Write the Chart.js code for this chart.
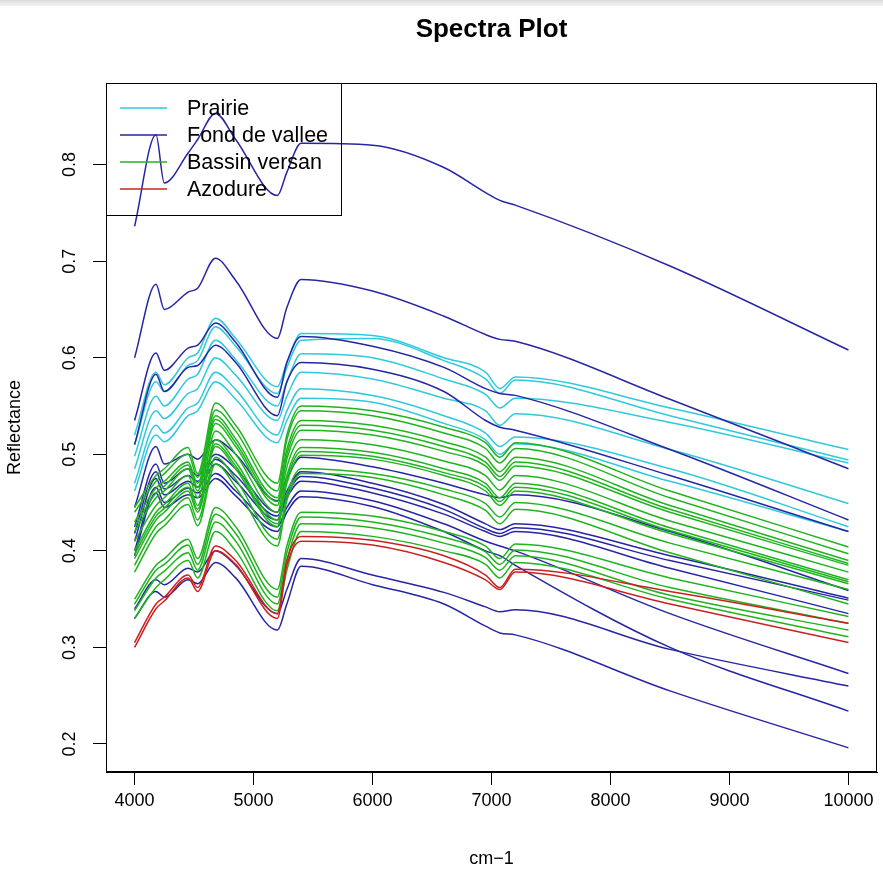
<!DOCTYPE html>
<html>
<head>
<meta charset="utf-8">
<script src="https://cdn.jsdelivr.net/npm/chart.js@4.4.1/dist/chart.umd.min.js"></script>
<style>
  html, body { margin: 0; padding: 0; background: #fff; }
  #wrap { position: relative; width: 883px; height: 878px; overflow: hidden; }
  #topbar { position: absolute; left: 0; top: 0; width: 883px; height: 6px;
            background: linear-gradient(#dcdcdc, #f3f3f3); }
  canvas { position: absolute; left: 0; top: 0; }
</style>
</head>
<body>
<div id="wrap">
  <canvas id="chart" width="883" height="878"></canvas>
  <div id="topbar"></div>
</div>
<script>
// Wavenumbers (cm-1) at which each spectrum is sampled
const wavenumbers = [4000, 4180, 4250, 4450, 4530, 4680, 4850, 5200, 5280, 5400, 6000, 6600, 6950, 7070, 7200, 8500, 10000];

// Reflectance spectra, one row per sample, grouped by site
const prairie = [
  [0.520, 0.585, 0.572, 0.600, 0.605, 0.641, 0.620, 0.570, 0.595, 0.625, 0.623, 0.600, 0.585, 0.568, 0.580, 0.548, 0.505],
  [0.510, 0.575, 0.565, 0.592, 0.597, 0.632, 0.612, 0.563, 0.590, 0.618, 0.620, 0.597, 0.578, 0.563, 0.577, 0.540, 0.494],
  [0.498, 0.560, 0.550, 0.578, 0.583, 0.618, 0.598, 0.550, 0.575, 0.604, 0.600, 0.578, 0.562, 0.548, 0.558, 0.533, 0.491],
  [0.485, 0.545, 0.537, 0.563, 0.568, 0.600, 0.582, 0.535, 0.560, 0.585, 0.578, 0.558, 0.545, 0.530, 0.542, 0.505, 0.449],
  [0.470, 0.530, 0.522, 0.548, 0.553, 0.585, 0.567, 0.520, 0.545, 0.568, 0.561, 0.540, 0.522, 0.508, 0.518, 0.485, 0.425],
  [0.462, 0.520, 0.513, 0.540, 0.545, 0.575, 0.557, 0.512, 0.535, 0.558, 0.554, 0.532, 0.515, 0.500, 0.511, 0.472, 0.420]
];
const fondDeVallee = [
  [0.736, 0.831, 0.781, 0.812, 0.826, 0.853, 0.826, 0.768, 0.792, 0.822, 0.820, 0.797, 0.771, 0.763, 0.758, 0.695, 0.608],
  [0.600, 0.676, 0.650, 0.668, 0.672, 0.703, 0.680, 0.620, 0.652, 0.681, 0.669, 0.643, 0.624, 0.619, 0.617, 0.557, 0.485],
  [0.535, 0.605, 0.587, 0.610, 0.613, 0.636, 0.616, 0.559, 0.595, 0.622, 0.612, 0.590, 0.568, 0.563, 0.561, 0.505, 0.432],
  [0.510, 0.583, 0.565, 0.590, 0.592, 0.613, 0.595, 0.540, 0.575, 0.595, 0.588, 0.565, 0.535, 0.528, 0.525, 0.478, 0.420],
  [0.445, 0.508, 0.490, 0.500, 0.495, 0.515, 0.500, 0.452, 0.475, 0.497, 0.487, 0.470, 0.458, 0.455, 0.458, 0.420, 0.359],
  [0.425, 0.490, 0.470, 0.485, 0.478, 0.500, 0.485, 0.440, 0.462, 0.482, 0.470, 0.448, 0.428, 0.422, 0.428, 0.395, 0.351],
  [0.418, 0.482, 0.464, 0.478, 0.472, 0.495, 0.478, 0.436, 0.458, 0.477, 0.465, 0.443, 0.423, 0.418, 0.424, 0.390, 0.349],
  [0.410, 0.475, 0.458, 0.472, 0.466, 0.490, 0.472, 0.432, 0.455, 0.472, 0.460, 0.438, 0.420, 0.415, 0.420, 0.382, 0.335],
  [0.400, 0.466, 0.450, 0.465, 0.460, 0.480, 0.462, 0.425, 0.445, 0.462, 0.452, 0.428, 0.410, 0.405, 0.400, 0.335, 0.273],
  [0.395, 0.460, 0.445, 0.458, 0.455, 0.475, 0.457, 0.420, 0.440, 0.456, 0.446, 0.420, 0.400, 0.395, 0.385, 0.300, 0.234],
  [0.340, 0.370, 0.365, 0.382, 0.378, 0.400, 0.385, 0.335, 0.360, 0.392, 0.375, 0.357, 0.342, 0.337, 0.339, 0.298, 0.260],
  [0.330, 0.358, 0.352, 0.370, 0.366, 0.388, 0.372, 0.318, 0.345, 0.384, 0.365, 0.345, 0.322, 0.315, 0.313, 0.255, 0.196]
];
const bassinVersan = [
  [0.445, 0.478, 0.485, 0.507, 0.480, 0.553, 0.530, 0.470, 0.520, 0.550, 0.545, 0.528, 0.512, 0.497, 0.512, 0.462, 0.404],
  [0.440, 0.472, 0.480, 0.500, 0.476, 0.546, 0.524, 0.462, 0.515, 0.545, 0.540, 0.522, 0.506, 0.491, 0.506, 0.455, 0.397],
  [0.430, 0.465, 0.472, 0.492, 0.470, 0.540, 0.516, 0.455, 0.505, 0.535, 0.530, 0.513, 0.497, 0.482, 0.497, 0.447, 0.390],
  [0.425, 0.460, 0.467, 0.489, 0.466, 0.536, 0.512, 0.451, 0.500, 0.530, 0.525, 0.508, 0.492, 0.477, 0.492, 0.443, 0.387],
  [0.420, 0.455, 0.462, 0.485, 0.462, 0.532, 0.508, 0.447, 0.495, 0.525, 0.520, 0.503, 0.488, 0.473, 0.488, 0.440, 0.385],
  [0.410, 0.447, 0.455, 0.478, 0.455, 0.524, 0.500, 0.440, 0.487, 0.515, 0.510, 0.493, 0.478, 0.463, 0.478, 0.431, 0.378],
  [0.400, 0.440, 0.448, 0.470, 0.447, 0.515, 0.492, 0.432, 0.478, 0.507, 0.502, 0.485, 0.470, 0.455, 0.470, 0.424, 0.370],
  [0.396, 0.436, 0.444, 0.466, 0.443, 0.511, 0.488, 0.428, 0.474, 0.503, 0.498, 0.481, 0.466, 0.451, 0.466, 0.421, 0.368],
  [0.392, 0.432, 0.440, 0.462, 0.440, 0.508, 0.485, 0.425, 0.470, 0.499, 0.495, 0.478, 0.462, 0.447, 0.462, 0.418, 0.366],
  [0.385, 0.425, 0.432, 0.455, 0.432, 0.497, 0.474, 0.412, 0.458, 0.485, 0.480, 0.464, 0.449, 0.435, 0.450, 0.408, 0.360],
  [0.378, 0.418, 0.426, 0.448, 0.426, 0.490, 0.466, 0.405, 0.452, 0.480, 0.476, 0.458, 0.442, 0.428, 0.443, 0.398, 0.345],
  [0.350, 0.385, 0.392, 0.412, 0.392, 0.445, 0.425, 0.360, 0.405, 0.440, 0.436, 0.420, 0.405, 0.392, 0.407, 0.372, 0.332],
  [0.345, 0.380, 0.386, 0.406, 0.386, 0.438, 0.418, 0.352, 0.398, 0.435, 0.430, 0.414, 0.399, 0.386, 0.401, 0.362, 0.325],
  [0.338, 0.372, 0.379, 0.398, 0.380, 0.430, 0.410, 0.345, 0.390, 0.428, 0.424, 0.408, 0.393, 0.380, 0.395, 0.354, 0.318],
  [0.330, 0.362, 0.370, 0.390, 0.372, 0.420, 0.400, 0.338, 0.380, 0.420, 0.415, 0.400, 0.386, 0.372, 0.388, 0.350, 0.311]
];
const azodure = [
  [0.305, 0.345, 0.352, 0.375, 0.362, 0.405, 0.390, 0.335, 0.390, 0.415, 0.411, 0.395, 0.375, 0.362, 0.381, 0.358, 0.325],
  [0.300, 0.340, 0.348, 0.372, 0.358, 0.400, 0.386, 0.330, 0.385, 0.410, 0.406, 0.388, 0.370, 0.360, 0.378, 0.345, 0.305]
];

const groupNames  = ['Prairie', 'Fond de vallee', 'Bassin versan', 'Azodure'];
const groupColors = ['#2fc9dc', '#2626a4', '#1fb41f', '#cc2020'];
const xTicks = [4000, 5000, 6000, 7000, 8000, 9000, 10000];
const yTicks = [0.2, 0.3, 0.4, 0.5, 0.6, 0.7, 0.8];

const FONT = '"Liberation Sans", Arial, Helvetica, sans-serif';

function seriesOf(rows, color) {
  return rows.map(vals => ({
    data: wavenumbers.map((w, i) => ({ x: w, y: vals[i] })),
    borderColor: color,
    borderWidth: 1.5,
    pointRadius: 0,
    fill: false,
    cubicInterpolationMode: 'monotone'
  }));
}

// Chart.js paints the first dataset last, so the list runs from top layer to bottom layer
const datasets = [].concat(
  seriesOf(azodure, groupColors[3]),
  seriesOf(bassinVersan, groupColors[2]),
  seriesOf(fondDeVallee, groupColors[1]),
  seriesOf(prairie, groupColors[0])
);

const frameAndText = {
  id: 'frameAndText',
  afterDraw(chart) {
    const { ctx, chartArea: a } = chart;
    ctx.save();
    // plot frame
    ctx.strokeStyle = '#000';
    ctx.lineWidth = 1;
    ctx.strokeRect(Math.round(a.left) + 0.5, Math.round(a.top) + 0.5,
                   Math.round(a.right - a.left) - 1, Math.round(a.bottom - a.top) - 1);
    // main title
    ctx.fillStyle = '#000';
    ctx.font = 'bold 26px ' + FONT;
    ctx.textAlign = 'center';
    ctx.textBaseline = 'middle';
    ctx.fillText('Spectra Plot', (a.left + a.right) / 2, 30);
    // legend in the top-left corner
    const lx = Math.round(a.left) + 0.5, ly = Math.round(a.top) + 0.5;
    ctx.strokeStyle = '#000';
    ctx.strokeRect(lx, ly, 235, 132);
    ctx.textAlign = 'left';
    ctx.font = '21.5px ' + FONT;
    groupNames.forEach((name, i) => {
      const y = a.top + 25 + i * 27;
      ctx.strokeStyle = groupColors[i];
      ctx.lineWidth = 1.5;
      ctx.beginPath();
      ctx.moveTo(a.left + 14, y);
      ctx.lineTo(a.left + 61, y);
      ctx.stroke();
      ctx.fillStyle = '#000';
      ctx.fillText(name, a.left + 81, y + 1);
    });
    ctx.restore();
  }
};

new Chart(document.getElementById('chart'), {
  type: 'line',
  data: { datasets },
  plugins: [frameAndText],
  options: {
    responsive: false,
    animation: false,
    events: [],
    layout: { padding: { top: 83, right: 6, left: 0, bottom: 0 } },
    plugins: { legend: { display: false }, tooltip: { enabled: false }, title: { display: false } },
    scales: {
      x: {
        type: 'linear',
        min: 3760, max: 10240,
        afterBuildTicks: s => { s.ticks = xTicks.map(v => ({ value: v })); },
        afterFit: s => { s.height = 106; s.paddingLeft = 0; s.paddingRight = 0; },
        grid: { display: true, drawOnChartArea: false, drawTicks: true, tickLength: 13, tickColor: '#000', tickWidth: 1 },
        border: { display: true, color: '#000', width: 1 },
        ticks: {
          autoSkip: false, maxRotation: 0, minRotation: 0, padding: 5,
          color: '#000', font: { family: FONT, size: 18 },
          callback: v => String(v)
        },
        title: { display: true, text: 'cm\u22121', color: '#000', font: { family: FONT, size: 18 }, padding: { top: 0, bottom: 8 } }
      },
      y: {
        type: 'linear',
        min: 0.171, max: 0.8845,
        afterBuildTicks: s => { s.ticks = yTicks.map(v => ({ value: v })); },
        afterFit: s => { s.width = 106; s.paddingTop = 0; s.paddingBottom = 0; },
        grid: { display: true, drawOnChartArea: false, drawTicks: true, tickLength: 13, tickColor: '#000', tickWidth: 1 },
        border: { display: true, color: '#000', width: 1 },
        ticks: {
          autoSkip: false, minRotation: 90, maxRotation: 90, padding: 10, crossAlign: 'center',
          color: '#000', font: { family: FONT, size: 18 },
          callback: v => v.toFixed(1)
        },
        title: { display: true, text: 'Reflectance', color: '#000', font: { family: FONT, size: 18 }, padding: { top: 4, bottom: 0 } }
      }
    }
  }
});
</script>
</body>
</html>
